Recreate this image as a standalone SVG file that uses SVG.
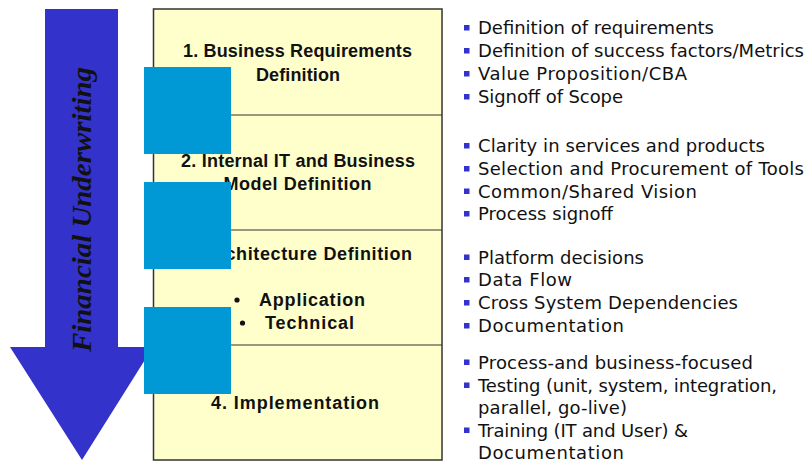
<svg xmlns="http://www.w3.org/2000/svg" width="812" height="464" viewBox="0 0 812 464">
<style>
.stage{fill:#ffffcc;stroke:#333333;stroke-width:1.5}
.div{stroke:#333333;stroke-width:1.2}
.t{font-family:"Liberation Sans",Arial,sans-serif;font-weight:bold;font-size:18px;fill:#111111;text-anchor:middle}
.b{font-family:"DejaVu Sans","Liberation Sans",sans-serif;font-size:18px;fill:#111111}
.sq{fill:#3333cc}
.blue{fill:#0099d6}
.arrowtxt{font-family:"Liberation Serif","Times New Roman",serif;font-weight:bold;font-style:italic;font-size:28px;fill:#111111;text-anchor:middle}
</style>
<rect width="812" height="464" fill="#ffffff"/>
<g id="arrow">
<polygon points="45,9 118,9 118,347 153,347 82,460 10,347 45,347" fill="#3333cc"/>
<text class="arrowtxt" transform="translate(91,209.5) rotate(-90)" textLength="285" lengthAdjust="spacingAndGlyphs">Financial Underwriting</text>
</g>
<g id="stages">
<rect class="stage" x="153.5" y="9" width="288.5" height="451"/>
<line class="div" x1="153.5" y1="115" x2="442" y2="115"/>
<line class="div" x1="153.5" y1="230" x2="442" y2="230"/>
<line class="div" x1="153.5" y1="345" x2="442" y2="345"/>
</g>
<g id="stage1">
<text class="t" x="297.5" y="57" textLength="229">1. Business Requirements</text>
<text class="t" x="298" y="80.5" textLength="84">Definition</text>
</g>
<g id="stage2">
<text class="t" x="298" y="167" textLength="234">2. Internal IT and Business</text>
<text class="t" x="297.5" y="190" textLength="148">Model Definition</text>
</g>
<g id="stage3">
<text class="t" x="297.5" y="260" textLength="229">3. Architecture Definition</text>
<circle cx="237" cy="300" r="2.6" fill="#111111"/>
<text class="t" x="312" y="306" textLength="106">Application</text>
<circle cx="242.5" cy="323" r="2.6" fill="#111111"/>
<text class="t" x="309.5" y="329" textLength="89">Technical</text>
</g>
<g id="stage4">
<text class="t" x="295" y="409" textLength="168">4. Implementation</text>
</g>
<g id="blocks">
<rect class="blue" x="144" y="67" width="87" height="87"/>
<rect class="blue" x="144" y="182" width="87" height="87"/>
<rect class="blue" x="144" y="307" width="87" height="87"/>
</g>
<g id="bullets1">
<rect class="sq" x="464" y="25" width="5.5" height="5.5"/>
<text class="b" x="478" y="34" textLength="236">Definition of requirements</text>
<rect class="sq" x="464" y="48" width="5.5" height="5.5"/>
<text class="b" x="478" y="57" textLength="326">Definition of success factors/Metrics</text>
<rect class="sq" x="464" y="71" width="5.5" height="5.5"/>
<text class="b" x="478" y="80" textLength="209">Value Proposition/CBA</text>
<rect class="sq" x="464" y="94" width="5.5" height="5.5"/>
<text class="b" x="478" y="103" textLength="145">Signoff of Scope</text>
</g>
<g id="bullets2">
<rect class="sq" x="464" y="143" width="5.5" height="5.5"/>
<text class="b" x="478" y="152" textLength="287">Clarity in services and products</text>
<rect class="sq" x="464" y="166" width="5.5" height="5.5"/>
<text class="b" x="478" y="175" textLength="326">Selection and Procurement of Tools</text>
<rect class="sq" x="464" y="188.5" width="5.5" height="5.5"/>
<text class="b" x="478" y="197.5" textLength="219">Common/Shared Vision</text>
<rect class="sq" x="464" y="211" width="5.5" height="5.5"/>
<text class="b" x="478" y="220" textLength="135">Process signoff</text>
</g>
<g id="bullets3">
<rect class="sq" x="464" y="254.5" width="5.5" height="5.5"/>
<text class="b" x="478" y="263.5" textLength="166">Platform decisions</text>
<rect class="sq" x="464" y="277" width="5.5" height="5.5"/>
<text class="b" x="478" y="286" textLength="94">Data Flow</text>
<rect class="sq" x="464" y="300" width="5.5" height="5.5"/>
<text class="b" x="478" y="309" textLength="260">Cross System Dependencies</text>
<rect class="sq" x="464" y="323" width="5.5" height="5.5"/>
<text class="b" x="478" y="332" textLength="146">Documentation</text>
</g>
<g id="bullets4">
<rect class="sq" x="464" y="359.5" width="5.5" height="5.5"/>
<text class="b" x="478" y="368.5" textLength="275">Process-and business-focused</text>
<rect class="sq" x="464" y="382.5" width="5.5" height="5.5"/>
<text class="b" x="478" y="391.5" textLength="299">Testing (unit, system, integration,</text>
<text class="b" x="478" y="414" textLength="149">parallel, go-live)</text>
<rect class="sq" x="464" y="427.5" width="5.5" height="5.5"/>
<text class="b" x="478" y="436.5" textLength="210">Training (IT and User) &amp;</text>
<text class="b" x="478" y="459" textLength="146">Documentation</text>
</g>
</svg>
